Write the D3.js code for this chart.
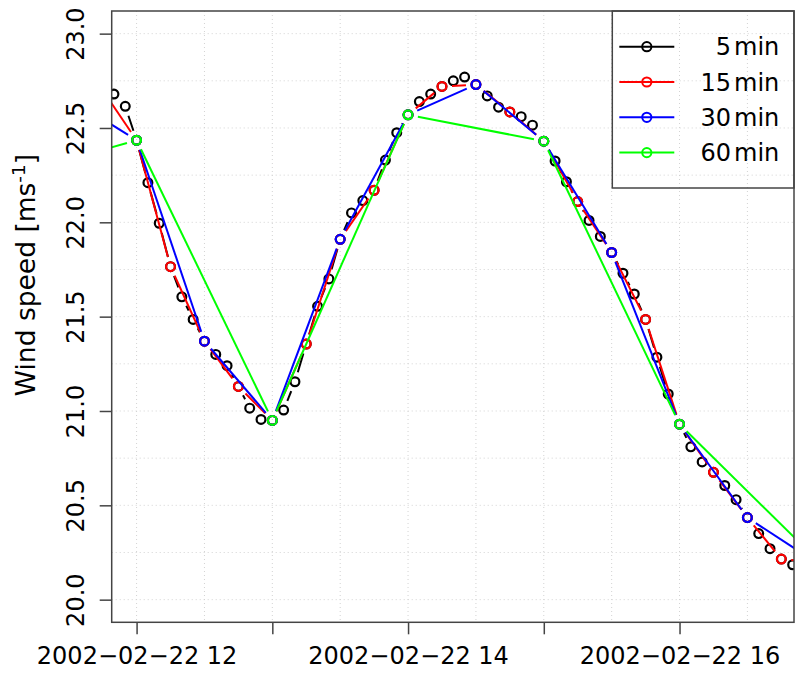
<!DOCTYPE html>
<html>
<head>
<meta charset="utf-8">
<script src="https://cdn.jsdelivr.net/npm/d3@7"></script>
<style>
    body { margin: 0; background: #fff; }
    svg text { font-family: "DejaVu Sans", sans-serif; fill: #000; }
</style>
</head>
<body>
<div id="vis"></div>
<script>
// Wind speed, sampled every 5 min (11:45 .. 17:00)
var ws5 = [22.70, 22.68, 22.615, 22.435, 22.21, 21.995, 21.765, 21.605, 21.485, 21.37, 21.30, 21.24,
           21.13, 21.015, 20.955, 20.95, 21.005, 21.155, 21.355, 21.555, 21.70, 21.91, 22.05, 22.115,
           22.17, 22.33, 22.475, 22.57, 22.64, 22.68, 22.72, 22.75, 22.77, 22.73, 22.67, 22.61,
           22.585, 22.56, 22.515, 22.43, 22.325, 22.215, 22.11, 22.01, 21.925, 21.84, 21.73, 21.62,
           21.485, 21.285, 21.09, 20.93, 20.81, 20.73, 20.675, 20.605, 20.53, 20.435, 20.35, 20.27,
           20.215, 20.185, 20.19, 20.20];
// every 15 min (11:45 .. 17:00)
var ws15 = [22.70, 22.435, 21.765, 21.37, 21.13, 20.95, 21.355, 21.91, 22.17, 22.57, 22.72, 22.73,
            22.585, 22.43, 22.11, 21.84, 21.485, 20.93, 20.675, 20.435, 20.215, 20.20];
// every 30 min (11:30 .. 17:00)
var ws30 = [22.66, 22.435, 21.37, 20.95, 21.91, 22.57, 22.73, 22.43, 21.84, 20.93, 20.435, 20.20];
// every 60 min (11:00 .. 17:00)
var ws60 = [22.23, 22.435, 20.95, 22.57, 22.43, 20.93, 20.22];

var seriesLabels = ['5', '15', '30', '60'];
var seriesStart = ['2002-02-22T11:45:00Z', '2002-02-22T11:45:00Z', '2002-02-22T11:30:00Z', '2002-02-22T11:00:00Z'];
var seriesValues = [ws5, ws15, ws30, ws60];
var seriesColors = ['#000000', '#ff0000', '#0000ff', '#00ff00'];

var yTicks = [20.0, 20.5, 21.0, 21.5, 22.0, 22.5, 23.0];
var xTicks = ['2002-02-22T12:00:00Z', '2002-02-22T13:00:00Z', '2002-02-22T14:00:00Z',
              '2002-02-22T15:00:00Z', '2002-02-22T16:00:00Z'];
var xLabelled = [12, 14, 16];

var margin = { top: 11, right: 6, bottom: 50.7, left: 111.7 },
    width = 800,
    height = 673,
    drawWidth = width - margin.left - margin.right,
    drawHeight = height - margin.top - margin.bottom;

var svg = d3.select('#vis').append('svg')
    .attr('width', width)
    .attr('height', height);

var g = svg.append('g')
    .attr('transform', 'translate(' + margin.left + ',' + margin.top + ')');

var xScale = d3.scaleUtc()
    .domain([new Date('2002-02-22T11:49:00Z'), new Date('2002-02-22T16:50:36Z')])
    .range([0, drawWidth]);

var yScale = d3.scaleLinear()
    .domain([19.88, 23.12])
    .range([drawHeight, 0]);

g.append('clipPath').attr('id', 'plotclip')
    .append('rect').attr('width', drawWidth).attr('height', drawHeight);

// dotted grid every 30 min / 0.25
var gridX = d3.utcMinute.every(30).range(xScale.domain()[0], xScale.domain()[1]);
var gridY = d3.range(20, 23.001, 0.25);
var grid = g.append('g').attr('stroke', '#d3d3d3').attr('stroke-dasharray', '1,3').attr('stroke-width', 1);
grid.selectAll('.gx').data(gridX).enter().append('line')
    .attr('x1', function(d) { return xScale(d); })
    .attr('x2', function(d) { return xScale(d); })
    .attr('y1', 0).attr('y2', drawHeight);
grid.selectAll('.gy').data(gridY).enter().append('line')
    .attr('y1', function(d) { return yScale(d); })
    .attr('y2', function(d) { return yScale(d); })
    .attr('x1', 0).attr('x2', drawWidth);

// data, drawn like R type="b" (lines with a gap around each point)
var gap = 10;
var plot = g.append('g').attr('clip-path', 'url(#plotclip)');

seriesValues.forEach(function(vals, k) {
    var t0 = new Date(seriesStart[k]);
    var step = +seriesLabels[k];
    var pts = vals.map(function(v, i) {
        return { t: d3.utcMinute.offset(t0, i * step), v: v };
    });
    var segs = [];
    for (var i = 1; i < pts.length; i++) {
        var x0 = xScale(pts[i - 1].t), y0 = yScale(pts[i - 1].v),
            x1 = xScale(pts[i].t), y1 = yScale(pts[i].v);
        var d = Math.hypot(x1 - x0, y1 - y0);
        if (d > 2 * gap) {
            var ux = (x1 - x0) / d, uy = (y1 - y0) / d;
            segs.push([x0 + gap * ux, y0 + gap * uy, x1 - gap * ux, y1 - gap * uy]);
        }
    }
    var s = plot.append('g');
    s.selectAll('line').data(segs).enter().append('line')
        .attr('x1', function(d) { return d[0]; })
        .attr('y1', function(d) { return d[1]; })
        .attr('x2', function(d) { return d[2]; })
        .attr('y2', function(d) { return d[3]; })
        .attr('stroke', seriesColors[k])
        .attr('stroke-width', 2);
    s.selectAll('circle').data(pts).enter().append('circle')
        .attr('cx', function(d) { return xScale(d.t); })
        .attr('cy', function(d) { return yScale(d.v); })
        .attr('r', 4.4)
        .attr('fill', 'none')
        .attr('stroke', seriesColors[k])
        .attr('stroke-width', 2.2);
});

// axes
var xAxis = d3.axisBottom(xScale)
    .tickValues(xTicks.map(function(d) { return new Date(d); }))
    .tickSize(12)
    .tickPadding(13)
    .tickFormat(function(d) {
        var h = d.getUTCHours();
        return xLabelled.indexOf(h) >= 0 ? '2002\u221202\u221222 ' + h : '';
    });
var xAxisG = g.append('g')
    .attr('transform', 'translate(0,' + drawHeight + ')')
    .call(xAxis);
xAxisG.select('.domain').remove();
xAxisG.selectAll('.tick line').attr('stroke', '#444').attr('stroke-width', 1.5);
xAxisG.selectAll('text').style('font-size', '24px').attr('fill', '#000');

var yAxis = d3.axisLeft(yScale)
    .tickValues(yTicks)
    .tickSize(12)
    .tickFormat(d3.format('.1f'));
var yAxisG = g.append('g').call(yAxis);
yAxisG.select('.domain').remove();
yAxisG.selectAll('.tick line').attr('stroke', '#444').attr('stroke-width', 1.5);
yAxisG.selectAll('text')
    .attr('x', 0).attr('dy', 0)
    .attr('text-anchor', 'middle')
    .attr('transform', 'translate(-28,0) rotate(-90)')
    .style('font-size', '24px')
    .attr('fill', '#000');

// plot box
g.append('rect')
    .attr('width', drawWidth).attr('height', drawHeight)
    .attr('fill', 'none').attr('stroke', '#444').attr('stroke-width', 1.5);

// y axis title
var yTitle = svg.append('text')
    .attr('transform', 'translate(35,275) rotate(-90)')
    .attr('text-anchor', 'middle')
    .style('font-size', '26.5px');
yTitle.append('tspan').text('Wind speed [ms');
yTitle.append('tspan').attr('dy', -10).style('font-size', '18.5px').text('-1');
yTitle.append('tspan').attr('dy', 10).text(']');

// legend
var legW = 181.7, legH = 177, rowH = 35.3;
var legend = g.append('g').attr('transform', 'translate(' + (drawWidth - legW) + ',0)');
legend.append('rect')
    .attr('width', legW).attr('height', legH)
    .attr('fill', 'none').attr('stroke', '#444').attr('stroke-width', 1.5);
var rows = legend.selectAll('.row').data(seriesLabels).enter().append('g')
    .attr('transform', function(d, i) { return 'translate(0,' + (35.7 + i * rowH) + ')'; });
rows.append('line')
    .attr('x1', 7).attr('x2', 62).attr('y1', 0).attr('y2', 0)
    .attr('stroke', function(d, i) { return seriesColors[i]; })
    .attr('stroke-width', 2);
rows.append('circle')
    .attr('cx', 34.5).attr('cy', 0).attr('r', 4.6)
    .attr('fill', 'none')
    .attr('stroke', function(d, i) { return seriesColors[i]; })
    .attr('stroke-width', 2);
var lt = rows.append('text')
    .attr('x', 167).attr('y', 0).attr('dy', '0.36em')
    .attr('text-anchor', 'end')
    .style('font-size', '24px');
lt.append('tspan').text(function(d) { return d; });
lt.append('tspan').attr('dx', 3).text('min');
</script>
</body>
</html>
